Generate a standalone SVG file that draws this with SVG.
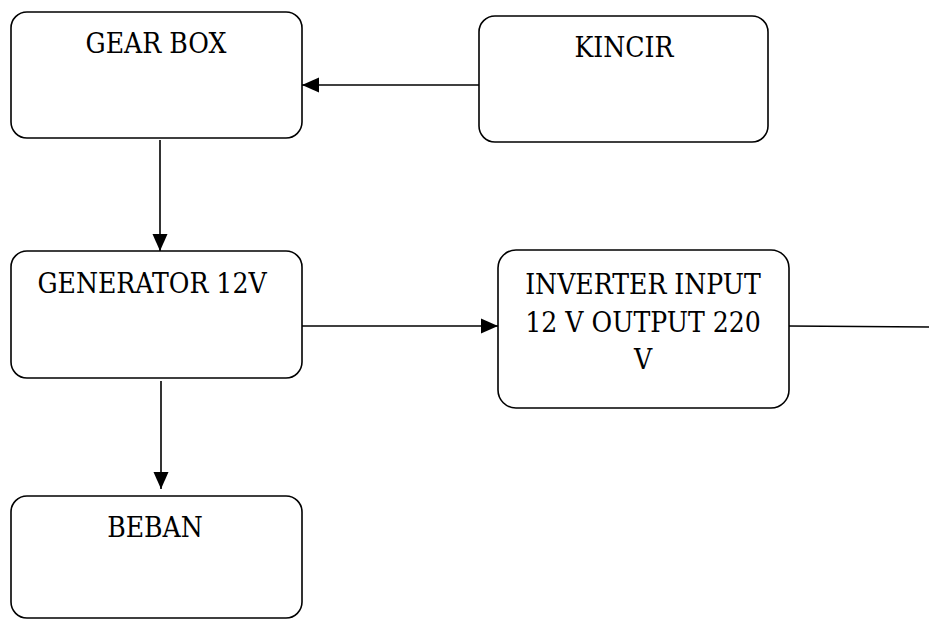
<svg xmlns="http://www.w3.org/2000/svg" width="929" height="619" viewBox="0 0 929 619">
<defs>
<marker id="arr" markerUnits="userSpaceOnUse" markerWidth="18" markerHeight="18" viewBox="0 0 18 18" refX="17" refY="9" orient="auto">
<path d="M0,1.5 L17,9 L0,16.5 Z" fill="#000"/>
</marker>
<style>
.box{fill:#fff;stroke:#000;stroke-width:1.6}
.lbl{font-family:'DejaVu Serif Condensed','DejaVu Serif',serif;font-size:28px;fill:#000;text-anchor:middle}
.con{stroke:#000;stroke-width:1.6;fill:none}
</style>
</defs>
<rect width="929" height="619" fill="#fff"/>
<g id="gearbox">
<rect class="box" x="11" y="12" width="291" height="126" rx="16"/>
<text class="lbl" x="156" y="53">GEAR BOX</text>
</g>
<g id="kincir">
<rect class="box" x="479" y="16" width="289" height="126" rx="16"/>
<text class="lbl" x="624" y="57">KINCIR</text>
</g>
<g id="generator">
<rect class="box" x="11" y="251" width="291" height="127" rx="16"/>
<text class="lbl" x="152" y="293">GENERATOR 12V</text>
</g>
<g id="inverter">
<rect class="box" x="498" y="250" width="291" height="158" rx="18"/>
<text class="lbl" x="643" y="294">INVERTER INPUT</text>
<text class="lbl" x="643" y="332">12 V OUTPUT 220</text>
<text class="lbl" x="643" y="369">V</text>
</g>
<g id="beban">
<rect class="box" x="11" y="496" width="291" height="122" rx="16"/>
<text class="lbl" x="155" y="537">BEBAN</text>
</g>
<g id="connectors">
<line class="con" x1="479" y1="85" x2="302" y2="85" marker-end="url(#arr)"/>
<line class="con" x1="160" y1="140" x2="160" y2="251" marker-end="url(#arr)"/>
<line class="con" x1="302" y1="326" x2="498" y2="326" marker-end="url(#arr)"/>
<line class="con" x1="789" y1="326" x2="929" y2="327"/>
<line class="con" x1="161" y1="381" x2="161" y2="489" marker-end="url(#arr)"/>
</g>
</svg>
